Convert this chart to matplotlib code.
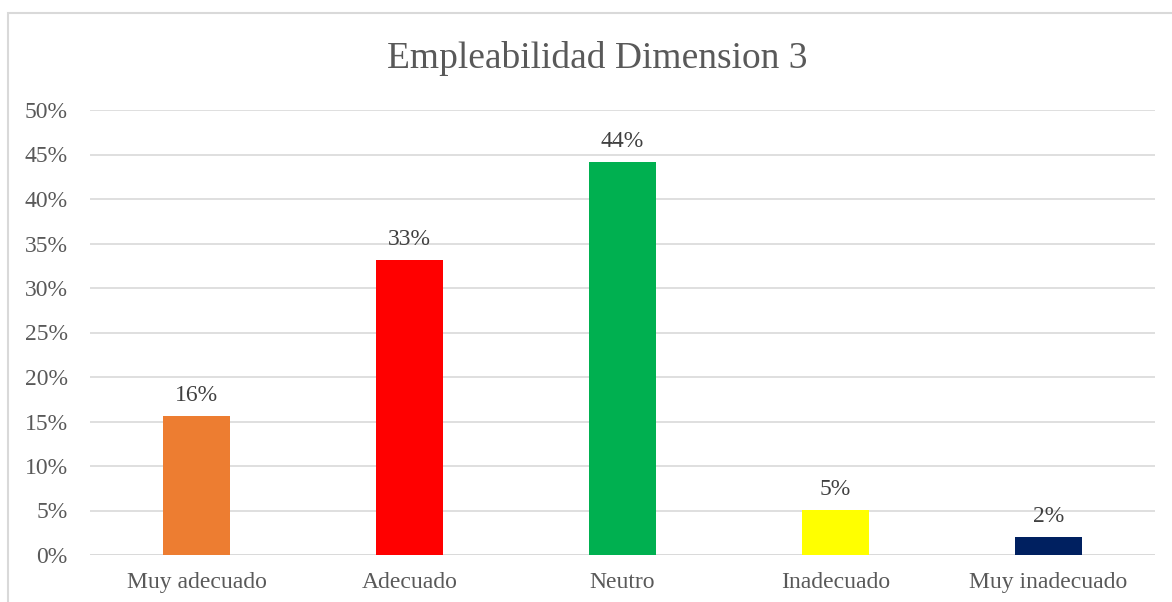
#!/usr/bin/env python3
# -*- coding: utf-8 -*-

import matplotlib
matplotlib.use("Agg")
import matplotlib.pyplot as plt
from matplotlib.patches import Rectangle
from matplotlib.ticker import PercentFormatter

categories = ["Muy adecuado", "Adecuado", "Neutro", "Inadecuado", "Muy inadecuado"]
values = [15.6, 33.2, 44.2, 5.1, 2.0]
labels = ["16%", "33%", "44%", "5%", "2%"]
colors = ["#ED7D31", "#FF0000", "#00B050", "#FFFF00", "#002060"]
yticks = [0, 5, 10, 15, 20, 25, 30, 35, 40, 45, 50]

TEXT = "#595959"
GRID = "#D9D9D9"

plt.rcParams["font.family"] = ["Liberation Serif", "DejaVu Serif"]

W, H = 1172, 602
fig = plt.figure(figsize=(W / 100, H / 100), dpi=100)
ax = fig.add_axes([90 / W, 1 - 555 / H, (1155 - 90) / W, (555 - 110) / H])

x = range(len(categories))
ax.bar(x, values, width=0.315, color=colors, zorder=3)
for i, (v, lab) in enumerate(zip(values, labels)):
    ax.annotate(lab, (i, v), xytext=(0, 7), textcoords="offset points",
                ha="center", va="bottom", fontsize=17, color="#404040")

ax.set_xlim(-0.5, len(categories) - 0.5)
ax.set_ylim(0, 50)
ax.set_yticks(yticks)
ax.yaxis.set_major_formatter(PercentFormatter(decimals=0))
ax.set_xticks(list(x))
ax.set_xticklabels(categories)
ax.tick_params(axis="both", length=0, labelsize=17, labelcolor=TEXT)
ax.tick_params(axis="y", pad=16)
ax.tick_params(axis="x", pad=12)
ax.grid(axis="y", color=GRID, linewidth=1.2, zorder=0)
for s in ax.spines.values():
    s.set_visible(False)
ax.axhline(0, color=GRID, linewidth=1.2, zorder=1)

fig.text(597 / W, 1 - 58 / H, "Empleabilidad Dimension 3", ha="center",
         va="center", fontsize=27, color=TEXT)

# chart area outline (cut at right/bottom like the screenshot)
fig.patches.append(Rectangle((8 / W, -0.05), 1.1, 1 - 13 / H + 0.05,
                             transform=fig.transFigure, fill=False,
                             edgecolor=GRID, linewidth=1.5))

fig.savefig("out.png", dpi=100)
